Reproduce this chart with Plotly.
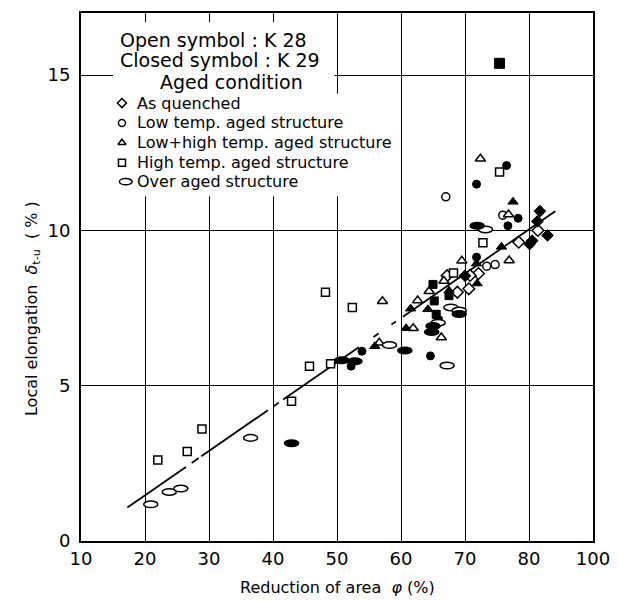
import plotly.graph_objects as go

# axis ticks as printed on the original (last x tick is labelled 100)
X_TICKS = [10, 20, 30, 40, 50, 60, 70, 80, 90]
X_TICK_TEXT = ['10', '20', '30', '40', '50', '60', '70', '80', '100']
Y_TICKS = [0, 5, 10, 15]

# As quenched - diamonds
aq_k28_x = [81.4, 78.4, 72.1, 70.8, 70.6, 68.8, 67.2]
aq_k28_y = [10.0, 9.62, 8.61, 8.55, 8.12, 8.01, 8.54]
aq_k29_x = [81.7, 81.3, 82.9, 80.5, 80.1, 70.0]
aq_k29_y = [10.62, 10.29, 9.84, 9.67, 9.56, 8.54]

# Low temp. aged - circles
lt_k28_x = [67.0, 75.9, 73.4, 74.7]
lt_k28_y = [11.08, 10.49, 8.85, 8.90]
lt_k29_x = [76.5, 71.8, 78.3, 76.7, 53.9, 52.2, 64.6, 71.8]
lt_k29_y = [12.09, 11.49, 10.39, 10.15, 6.11, 5.63, 5.96, 9.14]

# Low + high temp. aged - triangles
lh_k28_x = [57.1, 56.6, 61.9, 62.6, 64.4, 66.7, 66.3, 69.5, 76.8, 76.9, 72.4]
lh_k28_y = [7.72, 6.38, 6.85, 7.74, 8.04, 8.37, 6.55, 9.02, 10.51, 9.03, 12.31]
lh_k29_x = [55.9, 60.8, 61.5, 64.2, 67.5, 71.8, 71.9, 75.7, 77.5]
lh_k29_y = [6.27, 6.85, 7.48, 7.46, 8.06, 8.93, 8.29, 9.47, 10.92]

# High temp. aged - squares
ht_k28_x = [22.0, 26.6, 28.9, 42.9, 45.7, 49.0, 48.2, 52.4, 72.8, 75.4, 68.2]
ht_k28_y = [2.61, 2.88, 3.61, 4.50, 5.63, 5.71, 8.01, 7.52, 9.60, 11.88, 8.63]
ht_k29_x = [75.4, 65.0, 67.5, 65.2, 65.5, 65.8]
ht_k29_y = [15.38, 8.26, 7.90, 7.73, 7.30, 7.09]

# Over aged - ellipses
oa_k28_x = [20.9, 23.8, 25.6, 36.5, 58.2, 67.2, 67.8, 69.1, 65.8, 73.2]
oa_k28_y = [1.18, 1.58, 1.69, 3.32, 6.31, 5.65, 7.52, 7.42, 7.03, 10.03]
oa_k29_x = [42.9, 50.75, 52.8, 60.6, 65.0, 64.8, 69.1, 71.9]
oa_k29_y = [3.15, 5.82, 5.79, 6.13, 6.92, 6.73, 7.31, 10.15]

# regression line (end points) and the x-ranges where it is drawn
fit_x0, fit_y0 = 17.25, 1.08
fit_x1, fit_y1 = 84.1, 10.62
fit_pieces = [(17.25, 26.4), (27.3, 28.4), (28.8, 39.2), (40.1, 40.9),
              (41.6, 53.4), (55.7, 56.5), (58.5, 59.2), (60.3, 84.1)]

FONT = 'DejaVu Sans'
ELL_W, ELL_H = 2.2, 0.21


def fit_y(x):
    return fit_y0 + (fit_y1 - fit_y0) * (x - fit_x0) / (fit_x1 - fit_x0)


fig = go.Figure()

# fit line
lx, ly = [], []
for a, b in fit_pieces:
    lx += [a, b, None]
    ly += [fit_y(a), fit_y(b), None]
fig.add_trace(go.Scatter(x=lx, y=ly, mode='lines', line=dict(color='black', width=1.8),
                         hoverinfo='skip'))

groups = [
    ('diamond', aq_k28_x, aq_k28_y, aq_k29_x, aq_k29_y, 9),
    ('circle', lt_k28_x, lt_k28_y, lt_k29_x, lt_k29_y, 8),
    ('triangle-up', lh_k28_x, lh_k28_y, lh_k29_x, lh_k29_y, 9),
    ('square', ht_k28_x, ht_k28_y, ht_k29_x, ht_k29_y, 8),
]
for sym, ox, oy, cx, cy, size in groups:
    fig.add_trace(go.Scatter(x=ox, y=oy, mode='markers',
                             marker=dict(symbol=sym, size=size, color='white', opacity=1,
                                         line=dict(color='black', width=1.5))))
    # the lone top square is drawn a bit larger
    csize = [10] + [size] * (len(cx) - 1) if sym == 'square' else size
    fig.add_trace(go.Scatter(x=cx, y=cy, mode='markers',
                             marker=dict(symbol=sym, size=csize, color='black', opacity=1,
                                         line=dict(color='black', width=1))))

# ellipses (no ellipse marker in plotly -> shapes in data coords)
for xs, ys, fill in [(oa_k28_x, oa_k28_y, 'white'), (oa_k29_x, oa_k29_y, 'black')]:
    for x, y in zip(xs, ys):
        fig.add_shape(type='circle', xref='x', yref='y',
                      x0=x - ELL_W / 2, x1=x + ELL_W / 2, y0=y - ELL_H / 2, y1=y + ELL_H / 2,
                      fillcolor=fill, line=dict(color='black', width=1.5), layer='above')

# blank area behind the legend text
fig.add_shape(type='rect', x0=15.0, x1=49.6, y0=11.1, y1=16.7, fillcolor='white',
              line_width=0, layer='between')
fig.add_shape(type='rect', x0=15.0, x1=53.0, y0=11.1, y1=14.4, fillcolor='white',
              line_width=0, layer='between')

# legend text
header_lines = [
    (15.8, 16.12, 'Open symbol : K 28'),
    (15.8, 15.48, 'Closed symbol : K 29'),
    (22.0, 14.78, 'Aged condition'),
]
for x, y, t in header_lines:
    fig.add_annotation(x=x, y=y, text=t, showarrow=False, xanchor='left', yanchor='middle',
                       font=dict(family=FONT, size=19, color='black'))
legend_lines = [
    (18.4, 14.10, 'As quenched'),
    (18.4, 13.46, 'Low temp. aged structure'),
    (18.4, 12.82, 'Low+high temp. aged structure'),
    (18.4, 12.18, 'High temp. aged structure'),
    (18.4, 11.57, 'Over aged structure'),
]
for x, y, t in legend_lines:
    fig.add_annotation(x=x, y=y, text=t, showarrow=False, xanchor='left', yanchor='middle',
                       font=dict(family=FONT, size=16, color='black'))

fig.add_trace(go.Scatter(x=[16.4, 16.4, 16.4, 16.4], y=[14.10, 13.46, 12.82, 12.18],
                         mode='markers',
                         marker=dict(symbol=['diamond', 'circle', 'triangle-up', 'square'],
                                     size=7, color='white', opacity=1,
                                     line=dict(color='black', width=1.5))))
fig.add_shape(type='circle', xref='x', yref='y', x0=16.0, x1=18.0, y0=11.47, y1=11.67,
              fillcolor='white', line=dict(color='black', width=1.5), layer='above')

# axis titles
fig.add_annotation(x=0.5, y=-0.089, xref='paper', yref='paper', text='Reduction of area  <i>φ</i> (%)',
                   showarrow=False, yanchor='middle', font=dict(family=FONT, size=16, color='black'))
fig.add_annotation(x=-0.095, y=0.44, xref='paper', yref='paper',
                   text='Local elongation  <i>δ</i><sub>t-u</sub>  ( % )', textangle=-90,
                   showarrow=False, xanchor='center', font=dict(family=FONT, size=16, color='black'))

# page body has an 8px margin, so the figure is 8px smaller and shifted
fig.update_layout(
    width=610, height=593,
    margin=dict(l=73, r=25, t=3, b=60),
    plot_bgcolor='white', paper_bgcolor='white',
    showlegend=False,
    xaxis=dict(range=[10, 90], tickvals=X_TICKS, ticktext=X_TICK_TEXT,
               showgrid=True, gridcolor='black', gridwidth=1.3, zeroline=False,
               showline=True, mirror=True, linecolor='black', linewidth=2,
               ticks='', tickfont=dict(family=FONT, size=18, color='black')),
    yaxis=dict(range=[0, 17], tickvals=Y_TICKS, ticklabelstandoff=5,
               showgrid=True, gridcolor='black', gridwidth=1.3, zeroline=False,
               showline=True, mirror=True, linecolor='black', linewidth=2,
               ticks='', tickfont=dict(family=FONT, size=18, color='black')),
)

fig.write_html('out.html')
